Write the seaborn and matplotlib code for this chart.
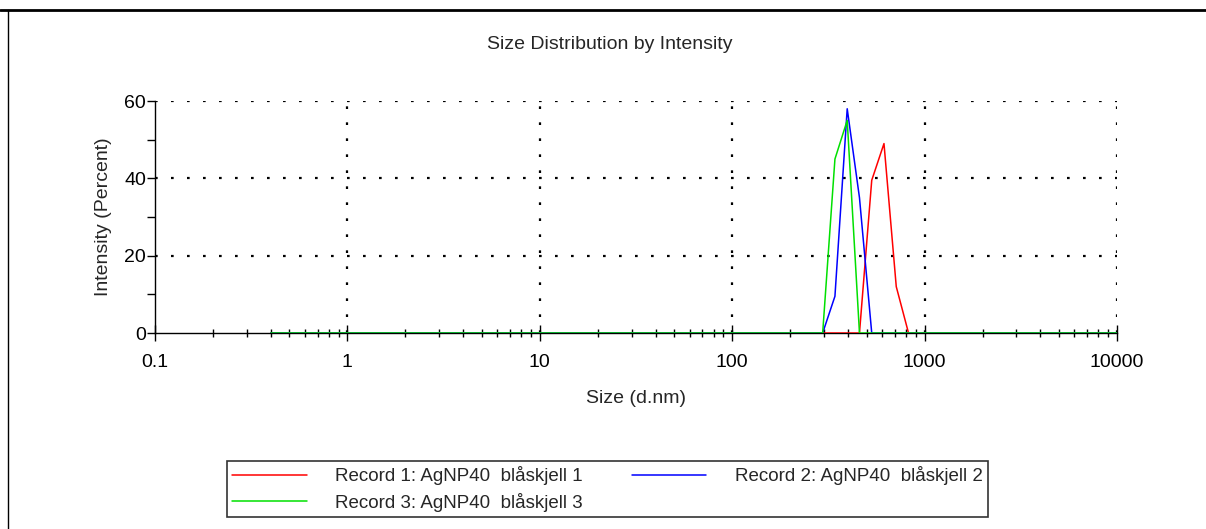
import numpy as np
import pandas as pd
import seaborn as sns
import matplotlib.pyplot as plt
from matplotlib.lines import Line2D
from matplotlib.ticker import FixedLocator, NullFormatter

# size bins (d.nm)
sizes = [0.4, 0.4632, 0.5365, 0.6213, 0.7195, 0.8332, 0.9649, 1.117, 1.294, 1.499,
         1.736, 2.010, 2.328, 2.696, 3.122, 3.615, 4.187, 4.849, 5.615, 6.503,
         7.531, 8.721, 10.10, 11.70, 13.54, 15.69, 18.17, 21.04, 24.36, 28.21,
         32.67, 37.84, 43.82, 50.75, 58.77, 68.06, 78.82, 91.28, 105.7, 122.4,
         141.8, 164.2, 190.1, 220.2, 255.0, 295.3, 342.0, 396.1, 458.7, 531.2,
         615.1, 712.4, 825.0, 955.4, 1106, 1281, 1484, 1718, 1990, 2305,
         2669, 3091, 3580, 4145, 4801, 5560, 6439, 7456, 8635, 10000]

record1 = [0, 0, 0, 0, 0, 0, 0, 0, 0, 0,
           0, 0, 0, 0, 0, 0, 0, 0, 0, 0,
           0, 0, 0, 0, 0, 0, 0, 0, 0, 0,
           0, 0, 0, 0, 0, 0, 0, 0, 0, 0,
           0, 0, 0, 0, 0, 0, 0, 0, 0, 39.5,
           49.0, 12.0, 0, 0, 0, 0, 0, 0, 0, 0,
           0, 0, 0, 0, 0, 0, 0, 0, 0, 0]
record2 = [0, 0, 0, 0, 0, 0, 0, 0, 0, 0,
           0, 0, 0, 0, 0, 0, 0, 0, 0, 0,
           0, 0, 0, 0, 0, 0, 0, 0, 0, 0,
           0, 0, 0, 0, 0, 0, 0, 0, 0, 0,
           0, 0, 0, 0, 0, 0, 9.5, 58.0, 35.0, 0,
           0, 0, 0, 0, 0, 0, 0, 0, 0, 0,
           0, 0, 0, 0, 0, 0, 0, 0, 0, 0]
record3 = [0, 0, 0, 0, 0, 0, 0, 0, 0, 0,
           0, 0, 0, 0, 0, 0, 0, 0, 0, 0,
           0, 0, 0, 0, 0, 0, 0, 0, 0, 0,
           0, 0, 0, 0, 0, 0, 0, 0, 0, 0,
           0, 0, 0, 0, 0, 0, 45.0, 55.0, 0, 0,
           0, 0, 0, 0, 0, 0, 0, 0, 0, 0,
           0, 0, 0, 0, 0, 0, 0, 0, 0, 0]

labels = ['Record 1: AgNP40  blåskjell 1',
          'Record 2: AgNP40  blåskjell 2',
          'Record 3: AgNP40  blåskjell 3']
colors = ['#ff0000', '#0000ff', '#00e000']
x_ticks = [0.1, 1, 10, 100, 1000, 10000]
x_ticklabels = ['0.1', '1', '10', '100', '1000', '10000']
y_ticks = [0, 20, 40, 60]

df = pd.DataFrame({
    'size': sizes * 3,
    'intensity': record1 + record2 + record3,
    'record': [labels[0]] * len(sizes) + [labels[1]] * len(sizes) + [labels[2]] * len(sizes),
})

sns.set_style('white')
plt.rcParams['font.family'] = ['Liberation Sans', 'DejaVu Sans']

fig = plt.figure(figsize=(12.06, 5.29), dpi=100)
ax = fig.add_axes([0.1285, 0.3705, 0.7977, 0.4385])

sns.lineplot(data=df, x='size', y='intensity', hue='record', hue_order=labels,
             palette=colors, linewidth=1.1, ax=ax, legend=True, estimator=None, sort=False)

ax.set_xscale('log')
ax.set_xlim(0.1, 10000)
ax.set_ylim(0, 60)

ax.xaxis.set_major_locator(FixedLocator(x_ticks))
ax.set_xticklabels(x_ticklabels)
minor = [m * 10.0 ** e for e in range(-1, 4) for m in range(2, 10)]
ax.xaxis.set_minor_locator(FixedLocator(minor))
ax.xaxis.set_minor_formatter(NullFormatter())
ax.set_yticks(y_ticks)
ax.yaxis.set_minor_locator(FixedLocator([10, 30, 50]))

ax.tick_params(axis='x', which='major', direction='inout', length=12, width=1, colors='black',
               labelsize=14, pad=9)
ax.tick_params(axis='x', which='minor', direction='inout', length=6, width=1, colors='black')
ax.tick_params(axis='y', which='both', direction='out', length=6, width=1, colors='black',
               labelsize=14, pad=0.5)
ax.tick_params(axis='both', which='both', bottom=True, left=True)

ax.grid(True, which='major', color='black', linestyle=(0, (1.2, 6)), linewidth=1.6)
ax.set_axisbelow(True)
ax.yaxis.get_gridlines()[0].set_visible(False)
ax.xaxis.get_gridlines()[0].set_visible(False)
for s in ['top', 'right']:
    ax.spines[s].set_visible(False)
for s in ['left', 'bottom']:
    ax.spines[s].set_color('black')
    ax.spines[s].set_linewidth(1)
    ax.spines[s].set_zorder(1.5)

ax.set_xlabel('Size (d.nm)', fontsize=14, labelpad=14)
ax.set_ylabel('Intensity (Percent)', fontsize=14, labelpad=9)
fig.text(0.506, 0.916, 'Size Distribution by Intensity', ha='center', va='center', fontsize=14)

handles, labs = ax.get_legend_handles_labels()
ax.get_legend().remove()
order = [0, 2, 1]
leg = fig.legend([handles[i] for i in order], [labs[i] for i in order],
                 loc='center', bbox_to_anchor=(0.5037, 0.0756), ncol=2, fontsize=13.5,
                 frameon=True, fancybox=False, edgecolor='#333333', framealpha=1,
                 handlelength=3.95, handletextpad=1.5, columnspacing=2.67,
                 labelspacing=0.4, borderpad=0.28, borderaxespad=0)
leg.get_frame().set_linewidth(1.2)
for h in leg.get_lines():
    h.set_linewidth(1.1)

# outer frame
fig.add_artist(Line2D([0, 1], [1 - 9.5 / 529, 1 - 9.5 / 529], color='black', linewidth=2,
                      transform=fig.transFigure))
fig.add_artist(Line2D([7.5 / 1206, 7.5 / 1206], [0, 1 - 9.5 / 529], color='black', linewidth=1,
                      transform=fig.transFigure))

fig.savefig('out.png', dpi=100)
